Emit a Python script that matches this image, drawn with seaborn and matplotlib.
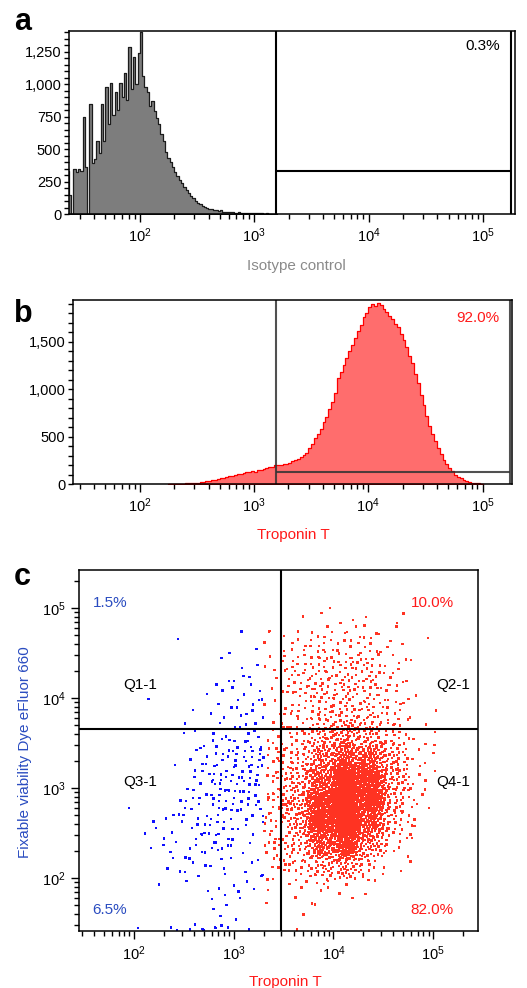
import matplotlib
matplotlib.use("Agg")
import matplotlib.pyplot as plt
import matplotlib.ticker as mticker
import numpy as np
import pandas as pd
import seaborn as sns

# ---- panel a: isotype control, counts per log10 bin (width 0.02, first edge 1.36)
iso_start = 1.36
iso_step = 0.02
iso_counts = [
    330, 150, 0, 345, 320, 350, 330, 750, 360, 0,
    850, 390, 420, 560, 470, 850, 560, 980, 690, 1010,
    760, 940, 800, 1010, 900, 1090, 880, 1290, 960, 1210,
    1000, 1240, 1400, 1060, 980, 940, 830, 870, 790, 740,
    690, 620, 560, 480, 430, 400, 360, 325, 295, 265,
    240, 205, 185, 165, 140, 120, 100, 88, 75, 62,
    52, 45, 40, 35, 32, 27, 24, 28, 19, 17,
    15, 17, 13, 11, 10, 12, 9, 8, 8, 10,
    6, 5, 5, 8, 4, 4, 3, 5, 3, 2,
    3, 2,
]

# ---- panel b: troponin T, counts per log10 bin (width 0.025, first edge 2.25)
trop_start = 2.25
trop_step = 0.025
trop_counts = [
    0, 1, 2, 3, 4, 5, 6, 9, 10, 12,
    15, 20, 22, 28, 31, 40, 44, 50, 58, 63,
    74, 80, 86, 98, 101, 108, 112, 124, 128, 135,
    131, 146, 152, 157, 168, 176, 184, 196, 202, 198,
    210, 215, 222, 240, 252, 268, 285, 305, 330, 375,
    420, 480, 530, 580, 650, 705, 790, 860, 960, 1120,
    1180, 1250, 1330, 1400, 1470, 1540, 1610, 1680, 1760, 1800,
    1860, 1900, 1880, 1910, 1890, 1840, 1810, 1770, 1740, 1690,
    1650, 1580, 1520, 1440, 1350, 1270, 1160, 1060, 940, 830,
    720, 610, 530, 450, 380, 320, 250, 210, 165, 135,
    100, 78, 58, 40, 30, 20, 14, 9, 6, 3,
]

# ---- panel c: events per cell (log10 edges), rows from top to bottom
c_y_edges = [5.0, 4.75, 4.5, 4.25, 4.0, 3.75, 3.5, 3.25, 3.0, 2.75,
             2.5, 2.25, 2.0, 1.75, 1.47, 1.42]
blue_x_edges = [1.75, 2.0, 2.25, 2.5, 2.75, 3.0, 3.3]
blue_grid = [
    [0, 0, 0, 0, 0, 1],
    [0, 0, 0, 1, 0, 1],
    [0, 0, 0, 0, 1, 4],
    [0, 0, 0, 0, 4, 7],
    [0, 1, 0, 2, 4, 8],
    [0, 0, 1, 2, 5, 9],
    [0, 0, 0, 3, 12, 18],
    [0, 0, 1, 5, 14, 16],
    [0, 0, 2, 8, 14, 12],
    [0, 2, 4, 8, 12, 8],
    [0, 2, 5, 8, 8, 5],
    [0, 0, 4, 4, 4, 3],
    [0, 0, 0, 2, 5, 4],
    [0, 0, 0, 1, 4, 1],
    [1, 0, 2, 3, 4, 1],
]
red_x_edges = [3.3, 3.5, 3.75, 4.0, 4.25, 4.5, 4.75, 5.0]
red_grid = [
    [1, 0, 3, 4, 2, 2, 0],
    [2, 8, 12, 10, 10, 5, 1],
    [3, 12, 16, 18, 14, 8, 1],
    [3, 14, 20, 22, 16, 9, 1],
    [3, 12, 18, 22, 18, 9, 2],
    [5, 16, 32, 45, 35, 16, 4],
    [8, 22, 55, 100, 85, 28, 5],
    [10, 30, 95, 190, 150, 35, 6],
    [12, 38, 150, 340, 170, 30, 4],
    [12, 38, 170, 350, 110, 20, 2],
    [10, 28, 95, 150, 50, 8, 1],
    [5, 12, 30, 45, 14, 2, 0],
    [2, 4, 4, 3, 1, 0, 0],
    [1, 2, 0, 0, 0, 0, 0],
    [0, 0, 0, 0, 0, 0, 0],
]

quadrant_labels = ["Q1-1", "Q2-1", "Q3-1", "Q4-1"]
quadrant_pcts = ["1.5%", "10.0%", "6.5%", "82.0%"]

W, H = 527, 988
RED = "#ff1a1a"
BLUE = "#2a4cc0"


def fx(x):
    return x / W


def fy(y):
    return 1 - y / H


def log_hist(ax, start, step, counts, face, edge, lw):
    n = len(counts)
    centers = 10 ** (start + step * (np.arange(n) + 0.5))
    sns.histplot(x=centers, weights=counts, bins=n, binrange=(start, start + step * n),
                 log_scale=True, element="step", fill=True, facecolor=face,
                 edgecolor=edge, linewidth=lw, alpha=1, ax=ax)
    ax.set(xlabel="", ylabel="")


def reflect(v, lo, hi):
    if v < lo:
        v = 2 * lo - v
    if v > hi:
        v = 2 * hi - v
    return v


def tent(u):
    # maps an even spread on [0, 1) to a tent shape on [-1, 1)
    return np.sqrt(2 * u) - 1 if u < 0.5 else 1 - np.sqrt(2 * (1 - u))


# low-discrepancy steps (R2 sequence) used to lay events out around a cell
G2 = 1.32471795724474602596
R2 = (1 / G2, 1 / G2 ** 2)


def cell_points(x_edges, y_edges, grid, x_bounds, y_bounds, reach=0.85):
    xs, ys = [], []
    k = 0
    for r, row in enumerate(grid):
        for c, n in enumerate(row):
            cx = (x_edges[c] + x_edges[c + 1]) / 2
            cy = (y_edges[r] + y_edges[r + 1]) / 2
            wx = abs(x_edges[c + 1] - x_edges[c]) * reach
            wy = abs(y_edges[r + 1] - y_edges[r]) * reach
            for _ in range(n):
                k += 1
                u = (0.5 + k * R2[0]) % 1
                v = (0.5 + k * R2[1]) % 1
                lx = reflect(cx + tent(u) * wx, *x_bounds)
                ly = reflect(cy + tent(v) * wy, *y_bounds)
                xs.append(10 ** lx)
                ys.append(10 ** ly)
    return xs, ys


def log_ticks(axis):
    axis.set_major_locator(mticker.LogLocator(base=10))
    axis.set_minor_locator(mticker.LogLocator(base=10, subs=np.arange(2, 10), numticks=50))
    axis.set_minor_formatter(mticker.NullFormatter())


sns.set_style("ticks", {"axes.edgecolor": "black", "xtick.color": "black",
                        "ytick.color": "black", "text.color": "black"})
plt.rcParams["font.family"] = ["Liberation Sans", "DejaVu Sans"]
plt.rcParams["mathtext.fontset"] = "custom"
plt.rcParams["mathtext.rm"] = "Liberation Sans"
plt.rcParams["axes.linewidth"] = 1.1

fig = plt.figure(figsize=(W / 100, H / 100), dpi=100)
ax_a = fig.add_axes([fx(69), fy(214), (515 - 69) / W, (214 - 31) / H])
ax_b = fig.add_axes([fx(73), fy(484), (512 - 73) / W, (484 - 300) / H])
ax_c = fig.add_axes([fx(79), fy(931), (478 - 79) / W, (931 - 570) / H])

thousands = mticker.FuncFormatter(lambda v, p: f"{v:,.0f}")

# panel a
log_hist(ax_a, iso_start, iso_step, iso_counts, "#7d7d7d", "#1c1c1c", 0.9)
ax_a.set_xlim(10 ** 1.381, 10 ** 5.28)
ax_a.set_ylim(0, 1410)
ax_a.yaxis.set_major_locator(mticker.MultipleLocator(250))
ax_a.yaxis.set_minor_locator(mticker.MultipleLocator(50))
ax_a.yaxis.set_major_formatter(thousands)
ax_a.axvline(1560, color="black", lw=1.5)
ax_a.axvline(1.75e5, color="black", lw=1.5)
ax_a.hlines(331, 1560, 1.75e5, color="black", lw=1.5)

# panel b
log_hist(ax_b, trop_start, trop_step, trop_counts, "#ff6d6d", "#ff0000", 0.9)
ax_b.set_xlim(10 ** 1.416, 10 ** 5.257)
ax_b.set_ylim(0, 1939)
ax_b.yaxis.set_major_locator(mticker.MultipleLocator(500))
ax_b.yaxis.set_minor_locator(mticker.MultipleLocator(100))
ax_b.yaxis.set_major_formatter(thousands)
gate_col = (0.2, 0.2, 0.2, 0.85)
ax_b.axvline(1560, color=gate_col, lw=1.5)
ax_b.axvline(1.74e5, color=gate_col, lw=1.5)
ax_b.hlines(130, 1560, 1.74e5, color=gate_col, lw=1.5)

for ax in (ax_a, ax_b):
    log_ticks(ax.xaxis)
    ax.tick_params(axis="x", which="major", length=6, width=1, labelsize=10.5, pad=3)
    ax.tick_params(axis="x", which="minor", length=3.5, width=1)
    ax.tick_params(axis="y", which="both", length=3.5, width=1, labelsize=10.5, pad=2)

# panel c
ax_c.set(xscale="log", yscale="log")
bx, by = cell_points(blue_x_edges, c_y_edges, blue_grid, (1.75, 3.3), (1.42, 5.05))
rx, ry = cell_points(red_x_edges, c_y_edges, red_grid, (3.3, 5.1), (1.42, 5.05))
events = pd.DataFrame({
    "troponin": bx + rx,
    "viability": by + ry,
    "gate": ["neg"] * len(bx) + ["pos"] * len(rx),
})
sns.scatterplot(data=events, x="troponin", y="viability", hue="gate",
                palette={"neg": "#1010ff", "pos": "#ff3322"}, marker="s", s=3,
                linewidth=0, legend=False, ax=ax_c)
ax_c.set(xlabel="", ylabel="")
ax_c.set_xlim(10 ** 1.448, 10 ** 5.45)
ax_c.set_ylim(10 ** 1.414, 10 ** 5.426)
ax_c.axvline(3000, color="black", lw=1.5)
ax_c.axhline(4600, color="black", lw=1.5)
log_ticks(ax_c.xaxis)
log_ticks(ax_c.yaxis)
ax_c.tick_params(which="major", length=6, width=1, labelsize=10.5)
ax_c.tick_params(which="minor", length=3.5, width=1)

# texts
fig.text(fx(14), fy(30), "a", fontsize=22, fontweight="bold", va="baseline")
fig.text(fx(14), fy(322), "b", fontsize=22, fontweight="bold", va="baseline")
fig.text(fx(14), fy(585), "c", fontsize=22, fontweight="bold", va="baseline")

fig.text(fx(296), fy(266), "Isotype control", color="#8a8a8a", fontsize=11,
         ha="center", va="center")
fig.text(fx(293), fy(535), "Troponin T", color=RED, fontsize=11, ha="center", va="center")
fig.text(fx(285), fy(975), "Troponin T", color=RED, fontsize=11, ha="center", va="top")
fig.text(fx(25), fy(752), "Fixable viability Dye eFluor 660", color=BLUE, fontsize=11,
         rotation=90, ha="center", va="center")

fig.text(fx(483), fy(46), "0.3%", fontsize=11, ha="center", va="center")
fig.text(fx(478), fy(318), "92.0%", color=RED, fontsize=11, ha="center", va="center")

pct_xy = [(110, 603, BLUE), (432, 603, RED), (110, 910, BLUE), (432, 910, RED)]
lab_xy = [(140, 685), (453, 685), (140, 782), (453, 782)]
for (x, y, col), pct in zip(pct_xy, quadrant_pcts):
    fig.text(fx(x), fy(y), pct, color=col, fontsize=11, ha="center", va="center")
for (x, y), lab in zip(lab_xy, quadrant_labels):
    fig.text(fx(x), fy(y), lab, fontsize=11, ha="center", va="center")

fig.savefig("out.png", dpi=100)
